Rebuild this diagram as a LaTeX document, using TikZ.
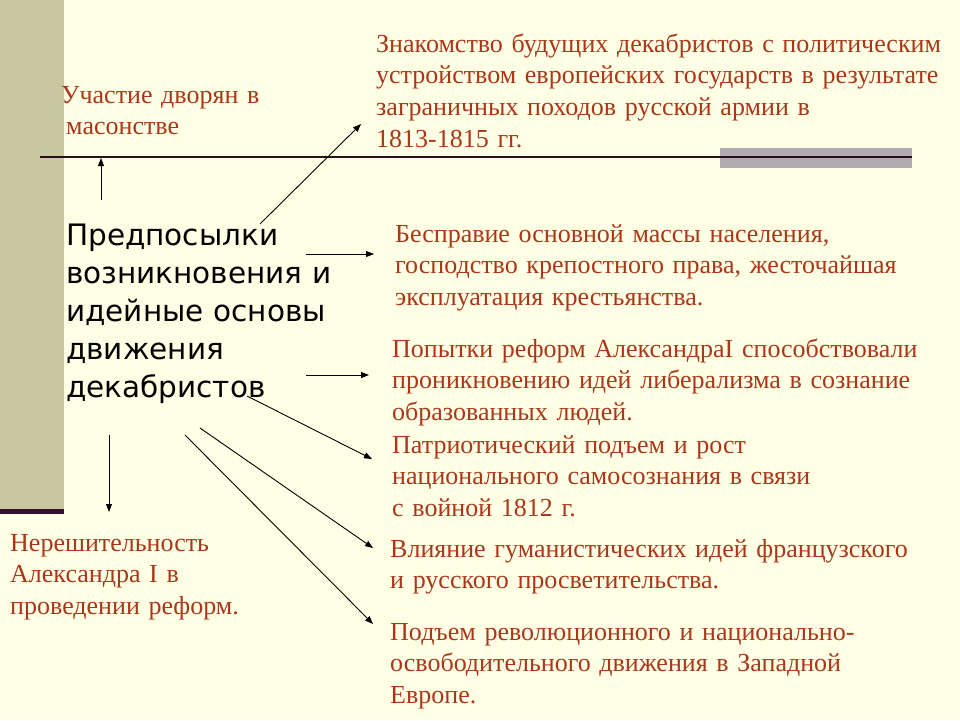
\documentclass[tikz,border=0pt]{standalone}
\usepackage{fontspec}
\setmainfont{Liberation Serif}
\newfontfamily\mainsans{DejaVu Sans}
\usetikzlibrary{arrows.meta}
\definecolor{bgc}{RGB}{255,255,230}
\definecolor{side}{RGB}{200,200,160}
\definecolor{sideline}{RGB}{55,15,50}
\definecolor{txt}{RGB}{170,55,25}
\definecolor{rulec}{RGB}{40,15,30}
\definecolor{barc}{RGB}{178,172,178}
\begin{document}
\begin{tikzpicture}[x=1pt,y=-1pt,
  redtext/.style={anchor=base west, inner sep=0pt, text width=600pt, align=left,
    text=txt, font=\fontsize{26}{31.7}\selectfont},
  maintext/.style={anchor=base west, inner sep=0pt, text width=400pt, align=left,
    text=black, font=\mainsans\fontsize{29.5}{38.2}\selectfont},
  arr/.style={draw=black, line width=0.9pt, -{Triangle[length=8pt,width=6pt]}}
]
\useasboundingbox (0,0) rectangle (960,720);
\fill[bgc] (0,0) rectangle (960,720);
% sidebar
\fill[side] (0,0) rectangle (64,509);
\fill[sideline] (0,509) rectangle (64,514);
% timeline
\fill[barc] (720,148) rectangle (912,168);
\coordinate (ruleL) at (40,157);
\coordinate (ruleR) at (912,157);
\draw[rulec, line width=2.2pt] (ruleL) -- (ruleR);

% texts
\node[maintext] (main) at (66,245) {Предпосылки\\возникновения и\\идейные основы\\движения\\декабристов};
\node[redtext] (uch) at (61,103) {Участие дворян в\\\hspace*{5pt}масонстве};
\node[redtext] (znak) at (376,52) {Знакомство будущих декабристов с политическим\\устройством европейских государств в результате\\заграничных походов русской армии в\\1813-1815 гг.};
\node[redtext] (bes) at (395,242) {Бесправие основной массы населения,\\господство крепостного права, жесточайшая\\эксплуатация крестьянства.};
\node[redtext] (pop) at (392,357) {Попытки реформ АлександраI способствовали\\проникновению идей либерализма в сознание\\образованных людей.};
\node[redtext] (pat) at (392,453) {Патриотический подъем и рост\\национального самосознания в связи\\с войной 1812 г.};
\node[redtext] (vli) at (390,557) {Влияние гуманистических идей французского\\и русского просветительства.};
\node[redtext] (pod) at (390,640) {Подъем революционного и национально-\\освободительного движения в Западной\\Европе.};
\node[redtext] (ner) at (10,551) {Нерешительность\\Александра I в\\проведении реформ.};

% arrow end points
\coordinate (s1) at (101,200); \coordinate (e1) at (101,158);
\coordinate (s2) at (260,224); \coordinate (e2) at (361,124);
\coordinate (s3) at (306,254); \coordinate (e3) at (374,254);
\coordinate (s4) at (306,375); \coordinate (e4) at (369,375);
\coordinate (s5) at (247,396); \coordinate (e5) at (372,459);
\coordinate (s6) at (200,428); \coordinate (e6) at (373,548);
\coordinate (s7) at (185,435); \coordinate (e7) at (373,624);
\coordinate (s8) at (109,435); \coordinate (e8) at (109,512);
\foreach \i in {1,...,8} { \draw[arr] (s\i) -- (e\i); }
\end{tikzpicture}
\end{document}
